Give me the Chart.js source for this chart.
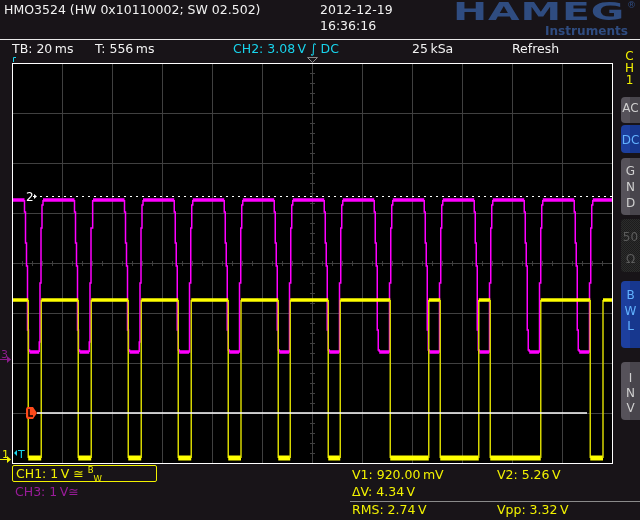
<!DOCTYPE html>
<html>
<head>
<meta charset="utf-8">
<title>HMO3524</title>
<script src="https://cdn.jsdelivr.net/npm/chart.js@4.4.1/dist/chart.umd.min.js"></script>
<style>
body { margin: 0; width: 640px; height: 520px; background: #181418; overflow: hidden; position: relative; font-family: "DejaVu Sans", sans-serif; }
canvas { position: absolute; left: 0; top: 0; }
.t { position: absolute; font-size: 12.5px; line-height: 12.5px; white-space: nowrap; color: #f2f2f2; }
.y { color: #f2f200; }
.c { color: #18d4ec; }
.p { color: #9a1c9a; }
.hr { position: absolute; height: 1px; }
.btn { position: absolute; left: 621px; width: 19px; border-radius: 4px 0 0 4px; background: linear-gradient(90deg, #56525a 50%, #48454c 50%); }
.blue { background: linear-gradient(90deg, #1d3f9e 50%, #17378e 50%); }
.dim { background: repeating-conic-gradient(#2c2c2c 0 25%, #1c1c1c 0 50%) 0 0/2px 2px; }
.lt { position: absolute; left: 621px; width: 19px; text-align: center; font-size: 12px; line-height: 12px; color: #cfcfcf; }
.lt.b { color: #62b2ff; }
.lt.d { color: #5c5c5c; }
.lt.y { color: #f2f200; left: 620px; }
#logo { position: absolute; left: 453px; top: -1px; color: #2f4c80; font: bold 25px/25px "DejaVu Sans", sans-serif; letter-spacing: 0.5px; transform-origin: 0 0; white-space: nowrap; }
#reg { position: absolute; left: 627px; top: 1px; color: #2f4c80; font: 9px/9px "DejaVu Sans", sans-serif; }
#instr { position: absolute; left: 545px; top: 24px; color: #2f4c80; font: bold 13px/13px "DejaVu Sans", sans-serif; transform-origin: 0 0; white-space: nowrap; }
#box { position: absolute; left: 12px; top: 465px; width: 143px; height: 15px; border: 1.5px solid #f2f200; border-radius: 2px; }
sup, sub { font-size: 8.5px; line-height: 0; }
</style>
</head>
<body>
<canvas id="scope" width="640" height="520"></canvas>

<div class="t" style="left:4px;top:3.5px">HMO3524 (HW 0x10110002; SW 02.502)</div>
<div class="t" style="left:320px;top:3.5px">2012-12-19</div>
<div class="t" style="left:320px;top:20px">16:36:16</div>
<div id="logo">HAMEG</div>
<div id="reg">®</div>
<div id="instr">Instruments</div>
<div class="hr" style="left:0;top:39px;width:640px;background:#e8e8e8"></div>

<div class="t" style="left:12px;top:43px">TB: 20&thinsp;ms</div>
<div class="t" style="left:95px;top:43px">T: 556&thinsp;ms</div>
<div class="t c" style="left:233px;top:43px">CH2: 3.08&thinsp;V ∫ DC</div>
<div class="t" style="left:412px;top:43px">25&thinsp;kSa</div>
<div class="t" style="left:512px;top:43px">Refresh</div>

<div class="lt y" style="top:50px">C</div>
<div class="lt y" style="top:62px">H</div>
<div class="lt y" style="top:74px">1</div>
<div class="btn" style="top:97px;height:26px"></div>
<div class="lt" style="top:102px">AC</div>
<div class="btn blue" style="top:125px;height:28px"></div>
<div class="lt b" style="top:134px">DC</div>
<div class="btn" style="top:158px;height:57px"></div>
<div class="lt" style="top:165px">G</div>
<div class="lt" style="top:181px">N</div>
<div class="lt" style="top:197px">D</div>
<div class="btn dim" style="top:219px;height:53px"></div>
<div class="lt d" style="top:231px">50</div>
<div class="lt d" style="top:253px">Ω</div>
<div class="btn blue" style="top:281px;height:67px"></div>
<div class="lt b" style="top:289px">B</div>
<div class="lt b" style="top:305px">W</div>
<div class="lt b" style="top:320px">L</div>
<div class="btn" style="top:362px;height:58px"></div>
<div class="lt" style="top:372px">I</div>
<div class="lt" style="top:387px">N</div>
<div class="lt" style="top:402px">V</div>

<div id="box"></div>
<div class="t y" style="left:16px;top:468px">CH1: 1&thinsp;V ≅ <sup>B</sup><sub>W</sub></div>
<div class="t p" style="left:15px;top:486px">CH3: 1&thinsp;V≅</div>
<div class="t y" style="left:352px;top:468.5px">V1: 920.00&thinsp;mV</div>
<div class="t y" style="left:497px;top:468.5px">V2: 5.26&thinsp;V</div>
<div class="t y" style="left:352px;top:486px">ΔV: 4.34&thinsp;V</div>
<div class="hr" style="left:350px;top:501px;width:290px;background:#8a8a8a"></div>
<div class="t y" style="left:352px;top:503.5px">RMS: 2.74&thinsp;V</div>
<div class="t y" style="left:497px;top:503.5px">Vpp: 3.32&thinsp;V</div>

<script>
// screen: 12 div x 20 ms, 8 div vertical, both channels 1 V/div
const timeSpan = [0, 240];
const vertSpan = [-4, 4];

// ground positions (divisions from centre)
const ch1Ground = -3.92;
const ch3Ground = -1.92;

// CH1 (yellow): low / high level in V and edge times in ms, starts high
const ch1Levels = [0.02, 3.18];
const ch1Edges = [6.5, 11.7, 26.5, 31.7, 46.5, 51.7, 66.5, 71.7, 86.5, 91.6, 106.5, 111.3,
                  126.5, 131.3, 151.3, 166.7, 171.3, 186.7, 191.3, 211.5, 231.3, 236.4];

// CH3 (magenta): starts high, falls at these times (ms)
const ch3High = 3.18;
const ch3Falls = [5.0, 25.0, 45.0, 64.9, 84.9, 104.9, 124.9, 144.9, 164.9, 184.9, 204.9, 224.9];
// steps after each fall start: [ms, V]
const ch3Steps = [[0, 2.94], [0.4, 2.32], [0.8, 1.86], [1.2, 0.58], [1.6, 0.18], [2.0, 0.14],
                  [5.9, 0.34], [6.2, 1.52], [6.6, 2.62], [7.0, 3.08], [7.4, 3.18]];

// trigger level marker (div) and cursor V1 on CH1
const trigLevel = 1.34;
const cursorV1 = 0.92;
const cursorSpan = [10, 230];

const gridColor = '#404040';

function ch1Points() {
  const pts = [];
  let hi = true;
  pts.push({x: timeSpan[0], y: ch1Ground + ch1Levels[1]});
  ch1Edges.forEach(t => {
    pts.push({x: t, y: ch1Ground + ch1Levels[hi ? 1 : 0]});
    hi = !hi;
    pts.push({x: t, y: ch1Ground + ch1Levels[hi ? 1 : 0]});
  });
  pts.push({x: timeSpan[1], y: ch1Ground + ch1Levels[hi ? 1 : 0]});
  return pts;
}

function ch3Points() {
  const pts = [];
  let v = ch3High;
  pts.push({x: timeSpan[0], y: ch3Ground + v});
  ch3Falls.forEach(f => {
    ch3Steps.forEach(s => {
      pts.push({x: f + s[0], y: ch3Ground + v});
      v = s[1];
      pts.push({x: f + s[0], y: ch3Ground + v});
    });
  });
  pts.push({x: timeSpan[1], y: ch3Ground + v});
  return pts;
}

const flat = c => c.p0.parsed.y === c.p1.parsed.y && c.p1.parsed.x - c.p0.parsed.x > 1;

const scopeDecor = {
  id: 'scopeDecor',
  beforeDraw(chart) {
    const {ctx, chartArea: a} = chart;
    ctx.save();
    ctx.fillStyle = '#000';
    ctx.fillRect(a.left, a.top, a.right - a.left, a.bottom - a.top);
    ctx.restore();
  },
  beforeDatasetsDraw(chart) {
    const {ctx, chartArea: a, scales: {x, y}} = chart;
    const cx = Math.round(x.getPixelForValue((timeSpan[0] + timeSpan[1]) / 2));
    const cy = Math.round(y.getPixelForValue(0));
    ctx.save();
    ctx.strokeStyle = gridColor;
    ctx.lineWidth = 1;
    ctx.beginPath();
    for (let t = timeSpan[0]; t <= timeSpan[1]; t += 4) {
      const px = Math.round(x.getPixelForValue(t)) + 0.5;
      ctx.moveTo(px, cy - 2); ctx.lineTo(px, cy + 3);
    }
    for (let v = vertSpan[0]; v <= vertSpan[1] + 0.01; v += 0.2) {
      const py = Math.round(y.getPixelForValue(v)) + 0.5;
      ctx.moveTo(cx - 2, py); ctx.lineTo(cx + 3, py);
    }
    ctx.stroke();
    // trigger level (dotted)
    const ty = Math.round(y.getPixelForValue(trigLevel)) + 0.5;
    ctx.strokeStyle = '#ffffff';
    ctx.setLineDash([2, 4]);
    ctx.beginPath();
    ctx.moveTo(a.left + 28, ty); ctx.lineTo(a.right, ty);
    ctx.stroke();
    ctx.restore();
  },
  afterDraw(chart) {
    const {ctx, chartArea: a, scales: {x, y}} = chart;
    ctx.save();
    ctx.strokeStyle = '#ffffff';
    ctx.lineWidth = 1;
    ctx.strokeRect(a.left + 0.5, a.top + 0.5, a.right - a.left, a.bottom - a.top);

    ctx.font = '11px "DejaVu Sans"';
    ctx.textBaseline = 'alphabetic';

    // CH1 ground marker
    const g1 = Math.round(y.getPixelForValue(ch1Ground));
    ctx.fillStyle = '#f2f200'; ctx.strokeStyle = '#f2f200';
    ctx.fillText('1', a.left - 10, g1 - 1);
    ctx.beginPath(); ctx.moveTo(a.left - 12, g1 + 0.5); ctx.lineTo(a.left - 4, g1 + 0.5); ctx.stroke();
    ctx.beginPath(); ctx.moveTo(a.left - 5, g1 - 3); ctx.lineTo(a.left - 1, g1 + 0.5); ctx.lineTo(a.left - 5, g1 + 4); ctx.fill();

    // CH3 ground marker
    const g3 = Math.round(y.getPixelForValue(ch3Ground));
    ctx.fillStyle = '#8c1c8c'; ctx.strokeStyle = '#8c1c8c';
    ctx.fillText('3', a.left - 11, g3 - 1);
    ctx.beginPath(); ctx.moveTo(a.left - 12, g3 + 0.5); ctx.lineTo(a.left - 4, g3 + 0.5); ctx.stroke();
    ctx.beginPath(); ctx.moveTo(a.left - 5, g3 - 3); ctx.lineTo(a.left - 1, g3 + 0.5); ctx.lineTo(a.left - 5, g3 + 4); ctx.fill();

    // trigger marker on CH1 ground line
    ctx.fillStyle = '#18d4ec';
    ctx.beginPath(); ctx.moveTo(a.left + 5, g1 - 9); ctx.lineTo(a.left + 2, g1 - 6); ctx.lineTo(a.left + 5, g1 - 3); ctx.fill();
    ctx.fillText('T', a.left + 6, g1 - 1);

    // trigger level marker "2"
    const ty = Math.round(y.getPixelForValue(trigLevel));
    ctx.fillStyle = '#ffffff';
    ctx.font = '12px "DejaVu Sans"';
    ctx.fillText('2', a.left + 14, ty + 5);
    ctx.beginPath(); ctx.moveTo(a.left + 22, ty - 2); ctx.lineTo(a.left + 25, ty + 0.5); ctx.lineTo(a.left + 22, ty + 3); ctx.fill();
    ctx.fillRect(a.left + 21, ty, 2, 1);

    // cursor marker "L"
    const cy = Math.round(y.getPixelForValue(ch1Ground + cursorV1));
    ctx.fillStyle = '#ff4a1a';
    ctx.beginPath();
    ctx.moveTo(a.left + 15, cy - 6); ctx.lineTo(a.left + 21, cy - 6); ctx.lineTo(a.left + 25, cy);
    ctx.lineTo(a.left + 21, cy + 6); ctx.lineTo(a.left + 15, cy + 6); ctx.lineTo(a.left + 14, cy + 4);
    ctx.lineTo(a.left + 14, cy - 4); ctx.closePath(); ctx.fill();
    ctx.strokeStyle = '#000'; ctx.lineWidth = 1.5;
    ctx.beginPath(); ctx.moveTo(a.left + 17, cy - 4); ctx.lineTo(a.left + 17, cy + 3); ctx.lineTo(a.left + 21, cy + 3); ctx.stroke();

    // top markers
    const mx = Math.round(x.getPixelForValue((timeSpan[0] + timeSpan[1]) / 2)) + 0.5;
    ctx.strokeStyle = '#8a8a8a'; ctx.lineWidth = 1;
    ctx.beginPath(); ctx.moveTo(mx - 5, a.top - 5.5); ctx.lineTo(mx + 5, a.top - 5.5); ctx.lineTo(mx, a.top - 0.5); ctx.closePath(); ctx.stroke();
    ctx.strokeStyle = '#18d4ec';
    ctx.beginPath(); ctx.moveTo(a.left + 1.5, a.top - 1); ctx.lineTo(a.left + 1.5, a.top - 5.5); ctx.lineTo(a.left + 4, a.top - 5.5); ctx.stroke();
    ctx.restore();
  }
};

const axisOpts = (span, step) => ({
  type: 'linear', min: span[0], max: span[1],
  ticks: {display: false, stepSize: step},
  grid: {color: gridColor, drawTicks: false, lineWidth: 1},
  border: {display: false}
});

new Chart(document.getElementById('scope'), {
  type: 'line',
  data: {
    datasets: [
      {
        label: 'V1',
        data: [{x: cursorSpan[0], y: ch1Ground + cursorV1}, {x: cursorSpan[1], y: ch1Ground + cursorV1}],
        borderColor: '#ffffff', borderWidth: 1.5
      },
      {
        label: 'CH1',
        data: ch1Points(),
        borderColor: '#ffff00', borderWidth: 1.5,
        segment: {
          borderWidth: c => flat(c) ? (c.p0.parsed.y > ch1Ground + 1.5 ? 3.5 : 5) : 1.5,
          borderColor: c => flat(c) ? '#ffff00' : '#d6d600'
        }
      },
      {
        label: 'CH3',
        data: ch3Points(),
        borderColor: '#ff00ff', borderWidth: 1.5,
        segment: {
          borderWidth: c => flat(c) ? 3.5 : 1.5
        }
      }
    ]
  },
  options: {
    responsive: false,
    animation: false,
    events: [],
    layout: {padding: {left: 12, top: 63, right: 28, bottom: 57}},
    elements: {point: {radius: 0}, line: {tension: 0, fill: false}},
    plugins: {legend: {display: false}, tooltip: {enabled: false}},
    scales: {
      x: axisOpts(timeSpan, 20),
      y: axisOpts(vertSpan, 1)
    }
  },
  plugins: [scopeDecor]
});

function fitWidth(id, w) {
  const el = document.getElementById(id);
  el.style.transform = 'scaleX(' + (w / el.getBoundingClientRect().width) + ')';
}
fitWidth('logo', 172);
fitWidth('instr', 83);
</script>
</body>
</html>
